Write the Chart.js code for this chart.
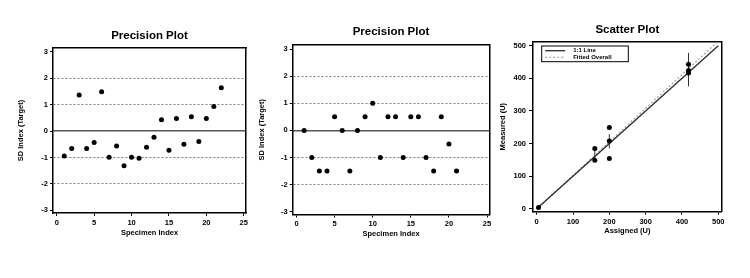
<!DOCTYPE html>
<html><head><meta charset="utf-8">
<script src="https://cdn.jsdelivr.net/npm/chart.js@4/dist/chart.umd.min.js"></script>
<style>
html,body{margin:0;padding:0;background:#fff;width:750px;height:278px;overflow:hidden;position:relative;}
canvas{position:absolute;top:0;}
</style></head><body>
<canvas id="chartA" width="250" height="278" style="left:0px"></canvas>
<canvas id="chartB" width="250" height="278" style="left:250px"></canvas>
<canvas id="chartC" width="260" height="278" style="left:490px"></canvas>
<script>
// ---- data ----
const precisionTitle = 'Precision Plot';
const scatterTitle = 'Scatter Plot';
const precisionXLabel = 'Specimen Index';
const precisionYLabel = 'SD Index (Target)';
const scatterXLabel = 'Assigned (U)';
const scatterYLabel = 'Measured (U)';

const specimenA = [1,2,3,4,5,6,7,8,9,10,11,12,13,14,15,16,17,18,19,20,21,22];
const sdIndexA  = [-0.94,-0.66,1.37,-0.66,-0.43,1.49,-0.99,-0.56,-1.31,-0.99,-1.03,-0.61,-0.23,0.43,-0.72,0.48,-0.50,0.55,-0.39,0.48,0.93,1.64];

const specimenB = [1,2,3,4,5,6,7,8,9,10,11,12,13,14,15,16,17,18,19,20,21];
const sdIndexB  = [0,-1,-1.5,-1.5,0.5,0,-1.5,0,0.5,1,-1,0.5,0.5,-1,0.5,0.5,-1,-1.5,0.5,-0.5,-1.5];

const precisionYTicks = [-3,-2,-1,0,1,2,3];
const precisionXTicks = [0,5,10,15,20,25];
const sdGuideLines = [-2,-1,1,2];
const sdCenterLine = [0];

const assigned = [5,160,160,200,200,200,418,418,418];
const measured = [4,185,149,249,208,154,443,424,416];
const errAssigned = [160,200,418];
const errLow  = [149,185,375];
const errHigh = [185,229,478];
const lineAssigned = [0,500];
const oneToOneMeasured = [0,500];
const fittedMeasured = [-1,514];
const scatterTicks = [0,100,200,300,400,500];
const legendNames = ['1:1 Line','Fitted Overall'];

// ---- helpers ----
const FONT = "'Liberation Sans', Arial, sans-serif";
const tickFont = {family: FONT, size: 7.5, weight: 'bold'};
const axisTitleFont = {family: FONT, size: 7.5, weight: 'bold'};
const titleFont = {family: FONT, size: 11.5, weight: 'bold'};

function setTicks(arr){ return s => { s.ticks = arr.map(v => ({value: v})); }; }

function frameAxes(min, max, axis) {
  return {
    type: 'linear', position: axis === 'x' ? 'top' : 'right', min: min, max: max,
    ticks: {display: false},
    grid: {drawOnChartArea: false, drawTicks: false},
    border: {display: true, color: '#000', width: 1.5},
    afterFit: s => { if (axis === 'x') s.height = 0; else s.width = 0; s.paddingLeft = 0; s.paddingRight = 0; s.paddingTop = 0; s.paddingBottom = 0; }
  };
}

function precisionChart(id, xs, ys, L) {
  const xMin = -0.5, xMax = 25.3, yMin = -3.1, yMax = 3.15;
  return new Chart(document.getElementById(id), {
    type: 'scatter',
    data: {datasets: [{
      data: xs.map((x, i) => ({x: x, y: ys[i]})),
      pointRadius: 2.5, pointBackgroundColor: '#000', pointBorderWidth: 0, showLine: false
    }]},
    options: {
      responsive: false, animation: false, devicePixelRatio: 1,
      layout: {padding: {left: 0, top: 0, bottom: 0, right: L.padRight}},
      plugins: {
        legend: {display: false}, tooltip: {enabled: false},
        title: {display: true, text: precisionTitle, fullSize: false, color: '#000', font: titleFont,
                padding: {top: L.titleTop, bottom: L.titleBottom}}
      },
      scales: {
        x: {
          type: 'linear', position: 'bottom', min: xMin, max: xMax,
          afterBuildTicks: setTicks(precisionXTicks),
          ticks: {font: tickFont, color: '#000', padding: 2, maxRotation: 0, autoSkip: false},
          grid: {drawOnChartArea: false, drawTicks: true, tickLength: 3, color: '#000', tickColor: '#000', tickWidth: 1},
          border: {display: true, color: '#000', width: 1.5},
          title: {display: true, text: precisionXLabel, color: '#000', font: axisTitleFont, padding: {top: 0, bottom: L.xTitlePad}},
          afterFit: s => { s.height = L.xAxisH; s.paddingLeft = 0; s.paddingRight = 0; }
        },
        y: {
          type: 'linear', position: 'left', min: yMin, max: yMax,
          afterBuildTicks: setTicks(precisionYTicks),
          ticks: {font: tickFont, color: '#000', padding: 2},
          grid: {
            drawOnChartArea: true, drawTicks: true, tickLength: 3, tickColor: '#000', tickWidth: 1,
            tickBorderDash: [], lineWidth: 1,
            color: c => (c.tick && sdGuideLines.includes(c.tick.value)) ? '#7a7a7a' : 'rgba(0,0,0,0)'
          },
          border: {display: true, color: '#000', width: 1.5, dash: [2, 2]},
          title: {display: true, text: precisionYLabel, color: '#000', font: axisTitleFont, padding: {top: L.yTitlePad, bottom: 0}},
          afterFit: s => { s.width = L.yAxisW; s.paddingTop = 0; s.paddingBottom = 0; }
        },
        y2: {
          type: 'linear', position: 'right', min: yMin, max: yMax,
          afterBuildTicks: setTicks(sdCenterLine),
          ticks: {display: false},
          grid: {drawOnChartArea: true, drawTicks: false, color: '#555', lineWidth: 1.4},
          border: {display: true, color: '#000', width: 1.5},
          afterFit: s => { s.width = 0; s.paddingTop = 0; s.paddingBottom = 0; }
        },
        x2: frameAxes(xMin, xMax, 'x')
      }
    }
  });
}

precisionChart('chartA', specimenA, sdIndexA,
  {padRight: 2, titleTop: 28.6, titleBottom: 5.6, xAxisH: 65, xTitlePad: 40.5, yAxisW: 53, yTitlePad: 16.5});
precisionChart('chartB', specimenB, sdIndexB,
  {padRight: 10.7, titleTop: 25.3, titleBottom: 5.9, xAxisH: 63.5, xTitlePad: 39.5, yAxisW: 42.7, yTitlePad: 7.5});

// legend drawn inside the plot area
const insideLegend = {
  id: 'insideLegend',
  afterDatasetsDraw(chart, args, o) {
    const {ctx, chartArea: a} = chart;
    const x0 = a.left + o.offsetX, y0 = a.top + o.offsetY;
    ctx.save();
    ctx.fillStyle = '#fff';
    ctx.fillRect(x0, y0, o.width, o.height);
    ctx.strokeStyle = '#000'; ctx.lineWidth = 1; ctx.setLineDash([]);
    ctx.strokeRect(x0, y0, o.width, o.height);
    const entries = chart.data.datasets.filter(d => d.label);
    entries.forEach((d, i) => {
      const y = y0 + o.rowTop + i * o.rowGap;
      ctx.beginPath();
      ctx.strokeStyle = d.borderColor; ctx.lineWidth = d.borderWidth;
      ctx.setLineDash(d.borderDash || []);
      ctx.moveTo(x0 + 3.5, y); ctx.lineTo(x0 + 23.5, y); ctx.stroke();
      ctx.setLineDash([]);
      ctx.fillStyle = '#000';
      ctx.font = 'bold 6px ' + FONT;
      ctx.textBaseline = 'middle'; ctx.textAlign = 'left';
      ctx.fillText(d.label, x0 + 31.5, y);
    });
    ctx.restore();
  }
};

const errData = [];
errAssigned.forEach((x, i) => { errData.push({x: x, y: errLow[i]}, {x: x, y: errHigh[i]}, {x: x, y: null}); });

const sxMin = -10.2, sxMax = 509.4, syMin = -9.2, syMax = 512.3;
new Chart(document.getElementById('chartC'), {
  type: 'scatter',
  data: {datasets: [
    {data: assigned.map((x, i) => ({x: x, y: measured[i]})), pointRadius: 2.5, pointBackgroundColor: '#000', pointBorderWidth: 0, showLine: false},
    {label: legendNames[0], data: lineAssigned.map((x, i) => ({x: x, y: oneToOneMeasured[i]})), showLine: true, pointRadius: 0, borderColor: '#2a2a2a', borderWidth: 1.3},
    {label: legendNames[1], data: lineAssigned.map((x, i) => ({x: x, y: fittedMeasured[i]})), showLine: true, pointRadius: 0, borderColor: '#a0a0a0', borderWidth: 1.2, borderDash: [2, 2]},
    {data: errData, showLine: true, spanGaps: false, pointRadius: 0, borderColor: '#333', borderWidth: 1}
  ]},
  options: {
    responsive: false, animation: false, devicePixelRatio: 1,
    layout: {padding: {left: 0, top: 0, bottom: 0, right: 28.3}},
    plugins: {
      legend: {display: false}, tooltip: {enabled: false},
      title: {display: true, text: scatterTitle, fullSize: false, color: '#000', font: titleFont, padding: {top: 22.9, bottom: 5.0}},
      insideLegend: {offsetX: 8.7, offsetY: 4.3, width: 86.6, height: 15.7, rowTop: 4.7, rowGap: 6.6}
    },
    scales: {
      x: {
        type: 'linear', position: 'bottom', min: sxMin, max: sxMax,
        afterBuildTicks: setTicks(scatterTicks),
        ticks: {font: tickFont, color: '#000', padding: 3, maxRotation: 0, autoSkip: false},
        grid: {drawOnChartArea: false, drawTicks: true, tickLength: 3, color: '#000', tickColor: '#000'},
        border: {display: true, color: '#000', width: 1.5},
        title: {display: true, text: scatterXLabel, color: '#000', font: axisTitleFont, padding: {top: 0, bottom: 42.8}},
        afterFit: s => { s.height = 66.3; s.paddingLeft = 0; s.paddingRight = 0; }
      },
      y: {
        type: 'linear', position: 'left', min: syMin, max: syMax,
        afterBuildTicks: setTicks(scatterTicks),
        ticks: {font: tickFont, color: '#000', padding: 3},
        grid: {drawOnChartArea: false, drawTicks: true, tickLength: 4, color: '#000', tickColor: '#000'},
        border: {display: true, color: '#000', width: 1.5},
        title: {display: true, text: scatterYLabel, color: '#000', font: axisTitleFont, padding: {top: 8.5, bottom: 0}},
        afterFit: s => { s.width = 43; s.paddingTop = 0; s.paddingBottom = 0; }
      },
      y2: frameAxes(syMin, syMax, 'y'),
      x2: frameAxes(sxMin, sxMax, 'x')
    }
  },
  plugins: [insideLegend]
});
</script>
</body></html>
